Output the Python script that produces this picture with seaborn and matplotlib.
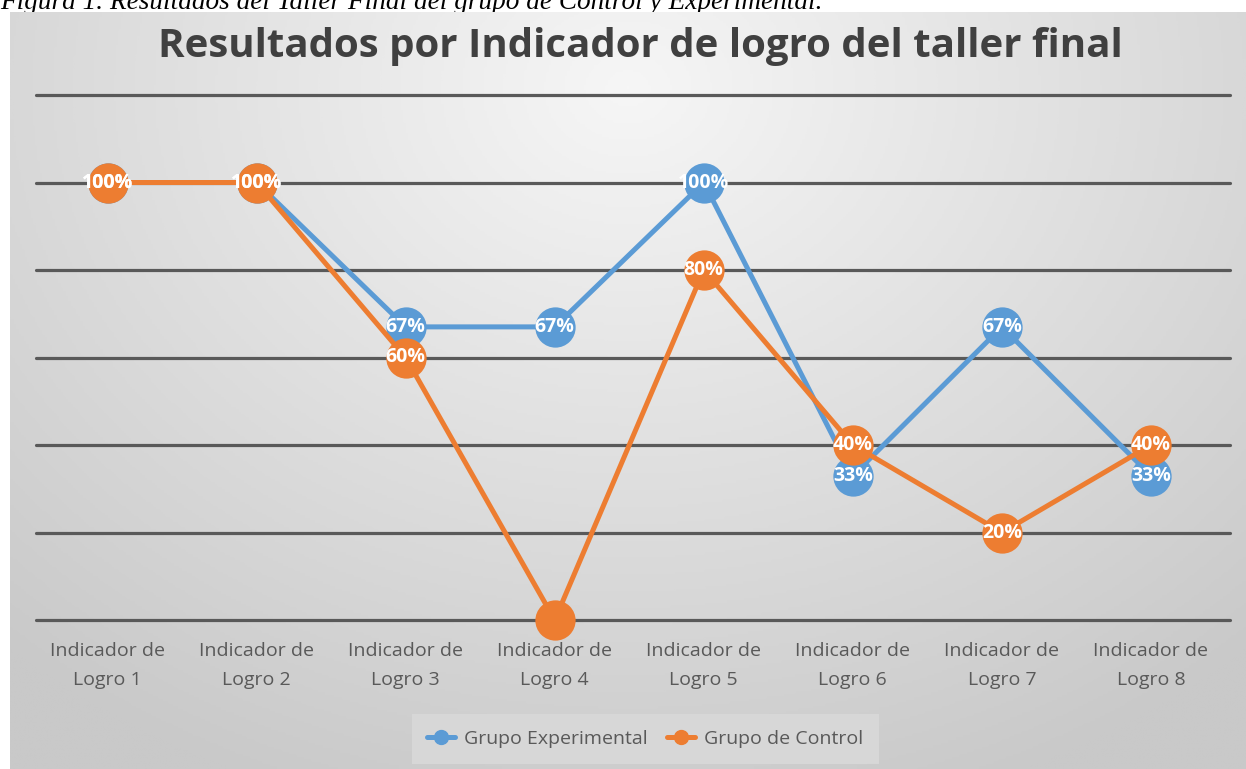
import numpy as np
import pandas as pd
import matplotlib.pyplot as plt
from matplotlib.lines import Line2D
import seaborn as sns

# datos
indicadores = ["Indicador de\nLogro 1", "Indicador de\nLogro 2", "Indicador de\nLogro 3",
               "Indicador de\nLogro 4", "Indicador de\nLogro 5", "Indicador de\nLogro 6",
               "Indicador de\nLogro 7", "Indicador de\nLogro 8"]
experimental = [1.00, 1.00, 0.67, 0.67, 1.00, 0.33, 0.67, 0.33]
control = [1.00, 1.00, 0.60, 0.00, 0.80, 0.40, 0.20, 0.40]
grupos = ["Grupo Experimental", "Grupo de Control"]
colores = {"Grupo Experimental": "#5B9BD5", "Grupo de Control": "#ED7D31"}

df = pd.DataFrame({
    "indicador": indicadores * 2,
    "valor": experimental + control,
    "grupo": [grupos[0]] * len(indicadores) + [grupos[1]] * len(indicadores),
})

sns.set_theme(style="white")
plt.rcParams["font.family"] = ["Open Sans", "DejaVu Sans"]

fig = plt.figure(figsize=(12.46, 7.69), dpi=100)
fig.patch.set_facecolor("white")

# fondo con degradado radial (estilo Excel)
bg = fig.add_axes([10 / 1246, 0, 1 - 10 / 1246, 1 - 12 / 769])
yy, xx = np.mgrid[0:1:300j, 0:1:500j]
r = np.sqrt(((xx - 0.5) / 0.75) ** 2 + ((yy - 0.1) / 1.0) ** 2)
r = np.clip(r, 0, 1)
bg.imshow(r, cmap=sns.blend_palette(["#f6f6f6", "#c9c9c9"], as_cmap=True),
          aspect="auto", extent=[0, 1, 1, 0], vmin=0, vmax=1)
bg.axis("off")
bg.set_zorder(0)

ax = fig.add_axes([36 / 1246, 1 - 620 / 769, 1194 / 1246, 525 / 769])
ax.set_zorder(1)
ax.patch.set_alpha(0)

sns.lineplot(data=df, x="indicador", y="valor", hue="grupo", palette=colores,
             hue_order=grupos, marker="o", markersize=29, linewidth=3.6,
             markeredgewidth=0, clip_on=False, sort=False, ax=ax, legend=False)
for i, ln in enumerate(ax.lines):
    ln.set_zorder(3 + i)

ax.set_xlim(-0.48, 7.53)
ax.set_ylim(0, 1.2)
ax.set_yticks(np.arange(0, 1.21, 0.2))
ax.set_yticklabels([])
ax.yaxis.grid(True, color="#595959", linewidth=2.3)
for gl in ax.get_ygridlines():
    gl.set_clip_on(False)
ax.set_axisbelow(True)
for s in ax.spines.values():
    s.set_visible(False)
ax.tick_params(axis="both", length=0)
ax.tick_params(axis="x", pad=16)
ax.set_xlabel("")
ax.set_ylabel("")
ax.set_xticks(range(len(indicadores)))
ax.set_xticklabels(indicadores, fontsize=14, color="#595959", linespacing=1.75)

# etiquetas de datos
for serie in [experimental, control]:
    for i, v in enumerate(serie):
        if v > 0:
            ax.text(i, v, f"{v:.0%}", ha="center", va="center", color="white",
                    fontsize=14, fontweight="bold", zorder=10, clip_on=False)

# titulo
fig.text(0.514, 1 - 46 / 769, "Resultados por Indicador de logro del taller final",
         ha="center", va="center", fontsize=29, fontweight="bold", color="#404040")

# leyenda
handles = [Line2D([0], [0], color=colores[g], lw=3.6, marker="o", markersize=10) for g in grupos]
leg = fig.legend(handles, grupos, loc="center", bbox_to_anchor=(0.518, 1 - 739 / 769),
                 ncol=2, frameon=True, fontsize=14, handlelength=1.4,
                 columnspacing=1.0, handletextpad=0.5)
leg.get_frame().set_facecolor("#dadada")
leg.get_frame().set_edgecolor("none")
leg.get_frame().set_boxstyle("square", pad=0.4)
for t in leg.get_texts():
    t.set_color("#595959")

# pie de figura (cortado arriba en el original)
fig.text(0.0, 1 - 9 / 769, "Figura 1. Resultados del Taller Final del grupo de Control y Experimental.",
         ha="left", va="baseline", fontsize=19.6, style="italic",
         family=["Liberation Serif", "DejaVu Serif"], color="black", zorder=-1)

fig.savefig("out.png", dpi=100)
